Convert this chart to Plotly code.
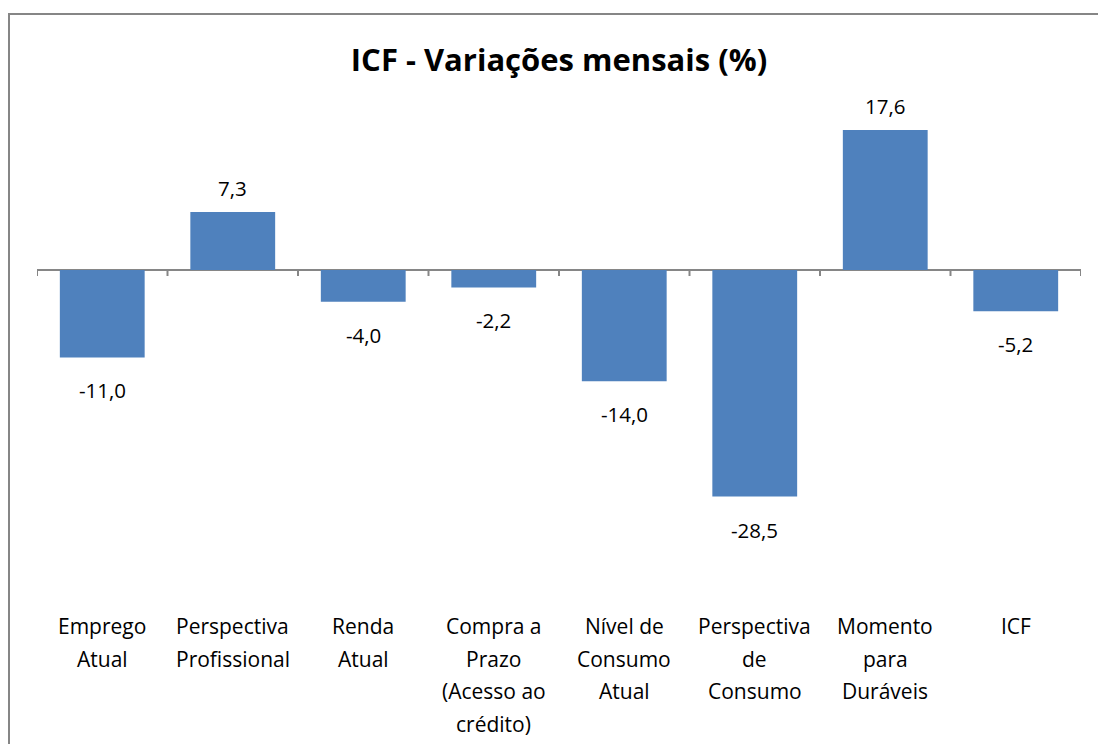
import plotly.graph_objects as go

categories = [
    "Emprego<br>Atual",
    "Perspectiva<br>Profissional",
    "Renda<br>Atual",
    "Compra a<br>Prazo<br>(Acesso ao<br>crédito)",
    "Nível de<br>Consumo<br>Atual",
    "Perspectiva<br>de<br>Consumo",
    "Momento<br>para<br>Duráveis",
    "ICF",
]
values = [-11.0, 7.3, -4.0, -2.2, -14.0, -28.5, 17.6, -5.2]
value_labels = ["-11,0", "7,3", "-4,0", "-2,2", "-14,0", "-28,5", "17,6", "-5,2"]
title_text = "ICF - Variações mensais (%)"

W, H = 1098, 744
L, R = 37, 17
T, B = 100, 144  # plot area from y=100 to y=600
zero_px = 270
px_per_unit = 7.95
plot_top, plot_bot = T, H - B
ymax = (zero_px - plot_top) / px_per_unit
ymin = -(plot_bot - zero_px) / px_per_unit

FONT = "Open Sans"
color_bar = "#4F81BD"
grey = "#868686"

fig = go.Figure()
fig.add_trace(go.Bar(
    x=categories, y=values,
    marker=dict(color=color_bar, line=dict(width=0)),
    width=0.65, hoverinfo="skip",
))

annotations = []
for cat, v, lab in zip(categories, values, value_labels):
    annotations.append(dict(
        x=cat, y=v, xref="x", yref="y", text=lab, showarrow=False,
        yanchor="bottom" if v >= 0 else "top",
        yshift=8 if v >= 0 else -17,
        font=dict(family=FONT, size=20.5, color="#000000"),
    ))

first_line_px = 626
line_gap = 32.5
def px_to_paper_y(py):
    return (plot_bot - py) / (plot_bot - plot_top)
def px_to_paper_x(px):
    return (px - L) / (W - L - R)

for cat in categories:
    for k, line in enumerate(cat.split("<br>")):
        annotations.append(dict(
            x=cat, xref="x", y=px_to_paper_y(first_line_px + k * line_gap), yref="paper",
            text=line, showarrow=False, yanchor="middle",
            font=dict(family=FONT, size=21, color="#000000"),
        ))

shapes = []
tick_len_units = 6 / px_per_unit
for i in range(len(categories) + 1):
    shapes.append(dict(type="line", xref="x", yref="y",
                       x0=i - 0.5, x1=i - 0.5, y0=0, y1=-tick_len_units,
                       line=dict(color=grey, width=2)))
shapes.append(dict(type="rect", xref="paper", yref="paper",
                   x0=px_to_paper_x(9), x1=px_to_paper_x(1105),
                   y0=px_to_paper_y(760), y1=px_to_paper_y(14),
                   line=dict(color=grey, width=2), fillcolor="rgba(0,0,0,0)",
                   layer="below"))

fig.update_layout(
    width=W, height=H,
    margin=dict(l=L, r=R, t=T, b=B, autoexpand=False),
    paper_bgcolor="white", plot_bgcolor="white",
    showlegend=False,
    title=dict(text=f"<b>{title_text}</b>", x=px_to_paper_x(559), xref="paper",
               xanchor="center", y=1 - 60 / H, yanchor="middle",
               font=dict(family=FONT, size=31, color="#000000")),
    xaxis=dict(range=[-0.5, len(categories) - 0.5], showticklabels=False,
               showline=False, ticks="", showgrid=False, zeroline=False),
    yaxis=dict(range=[ymin, ymax], showticklabels=False, showgrid=False,
               showline=False, ticks="", zeroline=True, zerolinecolor=grey,
               zerolinewidth=2),
    annotations=annotations,
    shapes=shapes,
    bargap=0.35,
)

fig.write_html("out.html", config={"displayModeBar": False},
               post_script="document.body.style.margin='0';document.body.style.overflow='hidden';")
